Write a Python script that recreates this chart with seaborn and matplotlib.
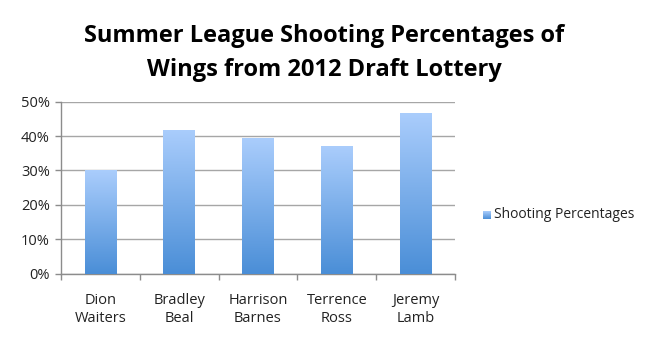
import numpy as np
import pandas as pd
import matplotlib
matplotlib.use("Agg")
import matplotlib.pyplot as plt
from matplotlib.colors import LinearSegmentedColormap
import seaborn as sns

players = ["Dion\nWaiters", "Bradley\nBeal", "Harrison\nBarnes", "Terrence\nRoss", "Jeremy\nLamb"]
shooting_pct = [30.0, 41.9, 39.5, 37.2, 46.8]
y_ticks = [0, 10, 20, 30, 40, 50]
y_tick_labels = ["0%", "10%", "20%", "30%", "40%", "50%"]
series_name = "Shooting Percentages"
title = "Summer League Shooting Percentages of\nWings from 2012 Draft Lottery"

sns.set_theme(style="white")
plt.rcParams["font.family"] = ["Open Sans", "DejaVu Sans"]

df = pd.DataFrame({"player": players, "pct": shooting_pct})

fig = plt.figure(figsize=(6.49, 3.45), dpi=100)
ax = fig.add_axes([0.094, 0.2067, 0.607, 0.4985])

sns.barplot(data=df, x="player", y="pct", ax=ax, width=0.4, color="#6fa6e6",
            edgecolor="none", zorder=3)

# vertical blue gradient inside each bar
grad_cmap = LinearSegmentedColormap.from_list("bluegrad", ["#4a8ed7", "#aacdfc"])
grad = np.linspace(0, 1, 256).reshape(-1, 1)
for p in ax.patches:
    x0, y0 = p.get_x(), p.get_y()
    w, h = p.get_width(), p.get_height()
    im = ax.imshow(grad, cmap=grad_cmap, origin="lower", aspect="auto",
                   extent=[x0, x0 + w, y0, y0 + h], zorder=4)
    im.set_clip_path(p)
    p.set_facecolor("none")

ax.set_xlim(-0.5, len(players) - 0.5)
ax.set_ylim(0, 50)
ax.set_yticks(y_ticks)
ax.set_yticklabels(y_tick_labels)
ax.set_xlabel("")
ax.set_ylabel("")

ax.grid(axis="y", color="#a6a6a6", linewidth=1.0, zorder=0)
ax.set_axisbelow(True)
for side in ["top", "right"]:
    ax.spines[side].set_visible(False)
for side in ["left", "bottom"]:
    ax.spines[side].set_color("#8c8c8c")
    ax.spines[side].set_linewidth(1.0)

ax.tick_params(axis="y", which="major", left=True, length=4, width=1.0,
               color="#8c8c8c", labelsize=10.5, labelcolor="#222222", pad=4)
ax.tick_params(axis="x", which="major", bottom=False, length=0,
               labelsize=10.5, labelcolor="#222222", pad=14)
ax.set_xticks(np.arange(-0.5, len(players)), minor=True)
ax.tick_params(axis="x", which="minor", bottom=True, length=4, width=1.0,
               color="#8c8c8c")
for lbl in ax.get_xticklabels():
    lbl.set_linespacing(1.3)

fig.text(0.5 * (82 + 566) / 649, 1 - 53 / 345, title, ha="center", va="center",
         fontsize=17, fontweight="bold", color="black", linespacing=1.5,
         family=["Open Sans", "DejaVu Sans"])

# legend entry: small gradient square and series label
lx0, ly0 = 483 / 649, 1 - 219 / 345
leg_ax = fig.add_axes([lx0, ly0, 8 / 649, 8 / 345])
leg_ax.imshow(grad, cmap=grad_cmap, origin="lower", aspect="auto")
leg_ax.set_axis_off()
fig.text(494 / 649, 1 - 214.5 / 345, series_name, ha="left", va="center",
         fontsize=10, color="#222222")

fig.savefig("out.png", dpi=100)
